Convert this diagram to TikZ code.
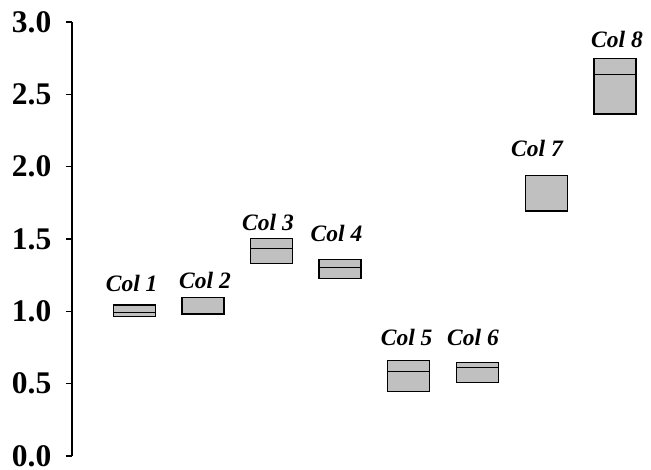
\documentclass[tikz,border=0pt]{standalone}
\usepackage{fontspec}
\setmainfont{Liberation Serif}
\definecolor{boxgray}{RGB}{192,192,192}
\begin{document}
\begin{tikzpicture}[x=1pt,y=144.7pt]
    \tikzset{box/.style={draw=black,fill=boxgray,line width=1.3pt},
             ticklab/.style={anchor=east,inner sep=0pt,font=\fontsize{31.5}{31.5}\selectfont\bfseries},
             collab/.style={anchor=base,inner sep=0pt,font=\fontsize{23.5}{23.5}\selectfont\bfseries\itshape}}
    \useasboundingbox (0,-0.0967) rectangle (651,3.1513);

    % axis
    \coordinate (bot) at (72,0);
    \coordinate (top) at (72,3);
    \draw[line width=1.3pt] (bot) -- (top);
    \foreach \v/\n in {0.0/0,0.5/1,1.0/2,1.5/3,2.0/4,2.5/5,3.0/6} {
        \coordinate (tk\n) at (72,\v);
        \draw[line width=1.3pt] (tk\n) -- ++(-6,0);
        \node[ticklab] (tl\n) at (51.5,\v) {\v};
    }

    % boxes
    \foreach \i/\x/\lo/\med/\hi/\lx/\ly in {
        1/134.5/0.965/0.992/1.043/131.7/1.135,
        2/203.0/0.981/0.981/1.097/205.0/1.159,
        3/271.7/1.332/1.437/1.504/268.0/1.555,
        4/340.0/1.228/1.304/1.359/336.5/1.481,
        5/408.8/0.444/0.581/0.659/406.7/0.767,
        6/477.7/0.507/0.610/0.645/473.0/0.767,
        7/546.7/1.693/1.937/1.937/537.0/2.073,
        8/615.0/2.363/2.633/2.748/617.0/2.824} {
        \draw[box] (\x-21,\lo) rectangle (\x+21,\hi);
        \draw[line width=1pt] (\x-21,\med) -- (\x+21,\med);
        \node[collab] (col\i) at (\lx,\ly) {Col \i};
    }
\end{tikzpicture}
\end{document}
